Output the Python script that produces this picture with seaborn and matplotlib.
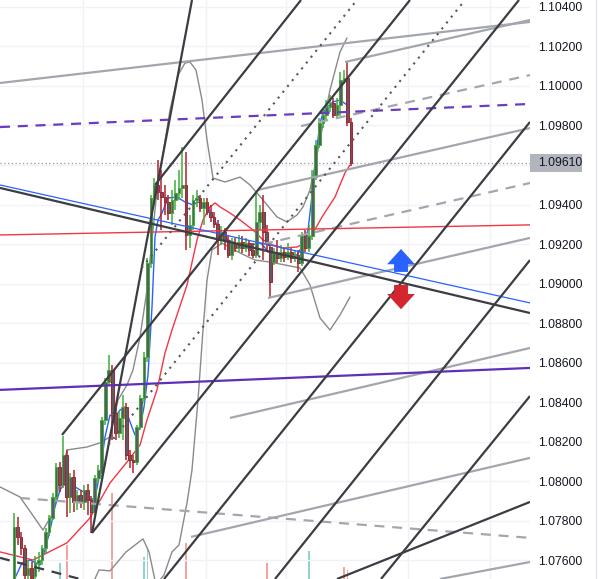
import numpy as np
import pandas as pd
import matplotlib
matplotlib.use("Agg")
import matplotlib.pyplot as plt
import matplotlib.transforms as mtransforms
from matplotlib.lines import Line2D
from matplotlib.patches import Rectangle
import seaborn as sns

# ---------------- data ----------------
open_ = [1.07475, 1.07768, 1.07718, 1.07662, 1.07526, 1.07561, 1.07520, 1.07586, 1.07601, 1.07662,
         1.07743, 1.07814, 1.07920, 1.08072, 1.07981, 1.08133, 1.07920, 1.08021, 1.07895, 1.07930,
         1.07895, 1.07956, 1.07905, 1.07844, 1.08016, 1.08042, 1.08310, 1.08502, 1.08563, 1.08345,
         1.08244, 1.08320, 1.08376, 1.08133, 1.08107, 1.08097, 1.08274, 1.08421, 1.08629, 1.09104,
         1.09433, 1.09499, 1.09463, 1.09438, 1.09413, 1.09357, 1.09423, 1.09458, 1.09484, 1.09499,
         1.09246, 1.09297, 1.09423, 1.09433, 1.09383, 1.09413, 1.09362, 1.09337, 1.09302, 1.09221,
         1.09261, 1.09221, 1.09145, 1.09205, 1.09180, 1.09210, 1.09180, 1.09205, 1.09170, 1.09145,
         1.09312, 1.09362, 1.09261, 1.09185, 1.09109, 1.09155, 1.09130, 1.09160, 1.09135, 1.09160,
         1.09130, 1.09145, 1.09104, 1.09246, 1.09180, 1.09241, 1.09539, 1.09701, 1.09813, 1.09853,
         1.09894, 1.09914, 1.09853, 1.09904, 1.10030, 1.10040, 1.09818]
high = [1.07839, 1.07819, 1.07743, 1.07677, 1.07601, 1.07591, 1.07622, 1.07642, 1.07677, 1.07763,
        1.07829, 1.07940, 1.08092, 1.08097, 1.08229, 1.08158, 1.08042, 1.08057, 1.07956, 1.07956,
        1.07981, 1.07986, 1.07925, 1.08032, 1.08082, 1.08325, 1.08522, 1.08639, 1.08588, 1.08371,
        1.08350, 1.08436, 1.08396, 1.08158, 1.08133, 1.08285, 1.08436, 1.08654, 1.09130, 1.09448,
        1.09534, 1.09625, 1.09575, 1.09499, 1.09448, 1.09474, 1.09524, 1.09575, 1.09691, 1.09666,
        1.09347, 1.09448, 1.09474, 1.09448, 1.09433, 1.09433, 1.09398, 1.09362, 1.09322, 1.09291,
        1.09281, 1.09246, 1.09231, 1.09231, 1.09246, 1.09241, 1.09231, 1.09221, 1.09205, 1.09463,
        1.09398, 1.09448, 1.09297, 1.09195, 1.09180, 1.09221, 1.09195, 1.09180, 1.09205, 1.09180,
        1.09170, 1.09170, 1.09261, 1.09271, 1.09297, 1.09575, 1.09727, 1.09838, 1.09889, 1.09929,
        1.09954, 1.09939, 1.09939, 1.10071, 1.10081, 1.10121, 1.09838]
low = [1.07440, 1.07677, 1.07627, 1.07450, 1.07460, 1.07440, 1.07500, 1.07541, 1.07576, 1.07637,
       1.07723, 1.07804, 1.07905, 1.07946, 1.07966, 1.07819, 1.07839, 1.07844, 1.07854, 1.07864,
       1.07854, 1.07829, 1.07738, 1.07829, 1.07996, 1.08021, 1.08285, 1.08487, 1.08209, 1.08209,
       1.08219, 1.08209, 1.08107, 1.08067, 1.08042, 1.08082, 1.08259, 1.08401, 1.08603, 1.09079,
       1.09398, 1.09423, 1.09271, 1.09347, 1.09322, 1.09297, 1.09372, 1.09423, 1.09433, 1.09170,
       1.09180, 1.09271, 1.09388, 1.09362, 1.09297, 1.09347, 1.09312, 1.09281, 1.09145, 1.09195,
       1.09170, 1.09130, 1.09119, 1.09160, 1.09160, 1.09155, 1.09160, 1.09140, 1.09130, 1.09130,
       1.09271, 1.09119, 1.09170, 1.08927, 1.09094, 1.09104, 1.09109, 1.09109, 1.09119, 1.09104,
       1.09109, 1.09059, 1.09089, 1.09160, 1.09160, 1.09221, 1.09524, 1.09686, 1.09787, 1.09828,
       1.09868, 1.09838, 1.09838, 1.09848, 1.10010, 1.09797, 1.09595]
close = [1.07768, 1.07718, 1.07662, 1.07526, 1.07561, 1.07510, 1.07586, 1.07601, 1.07662, 1.07743,
         1.07814, 1.07920, 1.08072, 1.07981, 1.08133, 1.07920, 1.08021, 1.07895, 1.07930, 1.07895,
         1.07956, 1.07905, 1.07844, 1.08016, 1.08057, 1.08310, 1.08502, 1.08563, 1.08345, 1.08244,
         1.08320, 1.08376, 1.08133, 1.08107, 1.08097, 1.08274, 1.08421, 1.08629, 1.09104, 1.09433,
         1.09499, 1.09463, 1.09438, 1.09413, 1.09357, 1.09423, 1.09458, 1.09484, 1.09499, 1.09246,
         1.09297, 1.09423, 1.09433, 1.09383, 1.09413, 1.09362, 1.09337, 1.09302, 1.09221, 1.09261,
         1.09221, 1.09145, 1.09205, 1.09180, 1.09210, 1.09180, 1.09205, 1.09170, 1.09145, 1.09312,
         1.09362, 1.09261, 1.09205, 1.09008, 1.09155, 1.09130, 1.09160, 1.09135, 1.09160, 1.09130,
         1.09145, 1.09104, 1.09246, 1.09180, 1.09241, 1.09539, 1.09701, 1.09813, 1.09853, 1.09894,
         1.09914, 1.09853, 1.09904, 1.10030, 1.10040, 1.09818, 1.09610]

# fast moving average (blue): bar index, price
ma_fast_x = [0.28, 2.28, 4.56, 7.41, 8.83, 10.26, 11.68, 13.11, 14.53, 15.95, 17.38, 20.23, 21.65, 23.08,
             24.50, 25.93, 27.35, 28.77, 30.20, 31.62, 33.05, 34.47, 35.90, 37.04, 38.18, 39.32, 40.17,
             41.03, 42.17, 43.87, 46.44, 48.72, 51.00, 52.42, 53.85, 55.27, 56.70, 58.12, 59.54, 60.97,
             64.39, 68.09, 69.52, 70.94, 72.36, 74.93, 77.78, 80.63, 82.34, 83.76, 85.19, 86.32, 87.18,
             88.03, 89.17, 90.88, 92.88, 94.87]
ma_fast_y = [1.07510, 1.07586, 1.07601, 1.07576, 1.07652, 1.07753, 1.07870, 1.07956, 1.07991, 1.08006,
             1.07971, 1.07941, 1.07905, 1.07915, 1.08042, 1.08224, 1.08335, 1.08325, 1.08360, 1.08376,
             1.08300, 1.08234, 1.08269, 1.08376, 1.08538, 1.08882, 1.09236, 1.09322, 1.09357, 1.09433,
             1.09438, 1.09413, 1.09398, 1.09413, 1.09398, 1.09383, 1.09337, 1.09286, 1.09246, 1.09221,
             1.09195, 1.09195, 1.09210, 1.09195, 1.09160, 1.09155, 1.09145, 1.09145, 1.09195, 1.09271,
             1.09489, 1.09691, 1.09813, 1.09863, 1.09894, 1.09919, 1.09929, 1.09904]
# slow moving average (red)
ma_slow_x = [-3.99, 5.41, 15.10, 21.65, 27.35, 32.19, 35.90, 37.89, 40.74, 43.02, 45.01, 49.29, 52.14,
             53.85, 55.84, 57.26, 58.69, 61.54, 64.39, 68.09, 70.94, 73.79, 76.64, 80.63, 83.48, 85.19,
             87.75, 91.45, 94.30, 95.73]
ma_slow_y = [1.07642, 1.07601, 1.07688, 1.07814, 1.07991, 1.08097, 1.08183, 1.08310, 1.08462, 1.08649,
             1.08765, 1.08993, 1.09221, 1.09322, 1.09388, 1.09408, 1.09388, 1.09357, 1.09322, 1.09271,
             1.09221, 1.09195, 1.09180, 1.09185, 1.09210, 1.09256, 1.09337, 1.09438, 1.09560, 1.09600]
# bollinger bands (grey)
bb_up_x = [-3.99, 1.71, 8.26, 11.11, 15.10, 20.80, 24.50, 27.35, 29.63, 32.19, 33.90, 35.90, 37.89,
           39.32, 40.74, 42.17, 44.44, 46.72, 48.72, 50.14, 51.85, 53.56, 54.99, 56.70, 60.11, 64.39,
           67.24, 70.94, 74.93, 77.78, 80.63, 82.34, 84.33, 87.18, 90.03, 92.88, 94.87]
bb_up_y = [1.07971, 1.07920, 1.07753, 1.07839, 1.08158, 1.08173, 1.08194, 1.08224, 1.08411, 1.08487,
           1.08563, 1.08730, 1.08968, 1.09221, 1.09474, 1.09625, 1.09878, 1.10055, 1.10116, 1.10121,
           1.10081, 1.09929, 1.09727, 1.09534, 1.09514, 1.09539, 1.09499, 1.09423, 1.09337, 1.09312,
           1.09347, 1.09388, 1.09474, 1.09727, 1.09980, 1.10172, 1.10243]
bb_lo_x = [21.08, 24.22, 27.35, 31.91, 36.75, 38.46, 40.46, 42.74, 45.01, 47.01, 49.29, 50.71, 52.42,
           53.85, 54.99, 56.41, 59.26, 64.39, 68.66, 72.93, 77.21, 81.48, 84.33, 87.18, 90.03, 92.88,
           95.73]
bb_lo_y = [1.07429, 1.07551, 1.07546, 1.07642, 1.07708, 1.07642, 1.07475, 1.07526, 1.07642, 1.07677,
           1.07890, 1.08057, 1.08411, 1.08765, 1.09017, 1.09170, 1.09205, 1.09155, 1.09119, 1.09109,
           1.09094, 1.09079, 1.08993, 1.08826, 1.08765, 1.08841, 1.08932]

# volume bars that show at the bottom
vol_idx = [13, 15, 28, 37, 38, 49, 72, 84, 94, 95]
vol_val = [28, 59, 149, 38, 55, 62, 28, 48, 21, 16]
vol_up = [True, False, False, True, True, False, False, True, False, False]

# drawings: (bar index start, price start, bar index end, price end)
dark_lines = [(22.22, 1.07738, 50.71, 1.10435),
              (40.17, 1.09499, 81.77, 1.10435),
              (13.68, 1.08234, 112.82, 1.10435),
              (22.22, 1.07738, 143.87, 1.10435),
              (42.74, 1.07505, 147.01, 1.09818),
              (74.36, 1.07505, 147.01, 1.09119),
              (104.56, 1.07505, 147.01, 1.08431),
              (-3.99, 1.09484, 147.01, 1.08851),
              (92.02, 1.07505, 147.01, 1.07895)]
dark_dashed = [(-3.99, 1.07612, 18.80, 1.07505)]
dotted_lines = [(36.38, 1.09079, 97.72, 1.10435),
                (26.95, 1.08185, 128.49, 1.10435)]
grey_lines = [(-3.99, 1.10015, 147.01, 1.10324),
              (94.30, 1.10121, 147.01, 1.10334),
              (69.52, 1.09474, 147.01, 1.09787),
              (72.36, 1.08927, 147.01, 1.09231),
              (61.54, 1.08320, 147.01, 1.08674),
              (50.43, 1.07718, 147.01, 1.08118),
              (121.37, 1.07505, 147.01, 1.07591)]
grey_dashed = [(81.77, 1.09797, 147.01, 1.10055),
               (70.94, 1.09200, 147.01, 1.09509),
               (1.71, 1.07915, 147.01, 1.07713)]
blue_line = (-3.99, 1.09499, 147.01, 1.08902)
red_line = (-3.99, 1.09246, 147.01, 1.09297)
purple_line = (-3.99, 1.08462, 147.01, 1.08573)
purple_dashed = (-3.99, 1.09792, 147.01, 1.09909)

last_price = 1.09610
arrow_up = (110.26, 1.09059, 1.09175)
arrow_down = (110.26, 1.08993, 1.08870)
session_breaks = [19.66, 54.70, 77.49, 112.25, 135.61]
price_ticks = [1.076, 1.078, 1.080, 1.082, 1.084, 1.086, 1.088, 1.090, 1.092, 1.094, 1.096,
               1.098, 1.100, 1.102, 1.104]

# ---------------- figure ----------------
sns.set_theme(style="white")
plt.rcParams['font.family'] = ['Liberation Sans', 'DejaVu Sans']

W, H = 598, 579
fig = plt.figure(figsize=(W / 100, H / 100), dpi=100)
fig.patch.set_facecolor("white")
rect = [0, 0, 530 / W, 1]
ax_v = fig.add_axes(rect)
ax = fig.add_axes(rect, sharex=ax_v)
ax.patch.set_visible(False)

XLIM = (-3.99, 147.01)
YLIM = (1.07505, 1.10435)

# volume
vdf = pd.DataFrame({"i": vol_idx, "v": vol_val, "up": vol_up})
for _, r in vdf.iterrows():
    ax_v.bar(r.i, r.v, width=0.5, color="#8fd3cb" if r.up else "#f5a3a1", linewidth=0)
ax_v.set_ylim(0, 1000)
ax_v.axis("off")

# grid
ax.set_xticks(session_breaks)
ax.set_yticks(price_ticks)
ax.grid(True, color="#f0f2f7", lw=1)
ax.set_axisbelow(True)

# indicators
sns.lineplot(x=bb_up_x, y=bb_up_y, ax=ax, color="#8a8a8a", lw=1, sort=False, zorder=2)
sns.lineplot(x=bb_lo_x, y=bb_lo_y, ax=ax, color="#8a8a8a", lw=1, sort=False, zorder=2)
sns.lineplot(x=ma_slow_x, y=ma_slow_y, ax=ax, color="#f23645", lw=1, sort=False, zorder=2)
sns.lineplot(x=ma_fast_x, y=ma_fast_y, ax=ax, color="#2962ff", lw=1, sort=False, zorder=2)

# candles
df = pd.DataFrame({"o": open_, "h": high, "l": low, "c": close})
df["i"] = np.arange(len(df))
up = df.c >= df.o
wick_col = np.where(up, "#3fae3a", "#b0202c")
ax.vlines(df.i, df.l, df.h, colors=wick_col, lw=1.1, zorder=3)
bottoms = np.minimum(df.o, df.c)
heights = np.maximum(np.abs(df.c - df.o), 0.00004)
ax.bar(df.i, heights, bottom=bottoms, width=0.78, color="#5a5c63",
       edgecolor=wick_col, linewidth=0.7, zorder=3.5)

# drawings
def seg(line, **kw):
    x0, y0, x1, y1 = line
    ax.plot([x0, x1], [y0, y1], solid_capstyle="butt", **kw)

for l in grey_lines:
    seg(l, color="#a3a6ad", lw=1.6, zorder=4)
for l in grey_dashed:
    seg(l, color="#a3a6ad", lw=1.6, ls=(0, (4.5, 3.5)), zorder=4)
seg(red_line, color="#f23645", lw=1.0, zorder=4)
seg(blue_line, color="#2962ff", lw=0.9, zorder=4)
seg(purple_line, color="#5e2fb8", lw=1.6, zorder=4)
seg(purple_dashed, color="#6a3cc0", lw=1.6, ls=(0, (4.5, 3.5)), zorder=4)
for l in dark_lines:
    seg(l, color="#3c3d42", lw=1.6, zorder=4.5)
for l in dark_dashed:
    seg(l, color="#3c3d42", lw=1.6, ls=(0, (4.5, 3.5)), zorder=4.5)
for l in dotted_lines:
    seg(l, color="#55565c", lw=1.5, ls=(0, (1, 2.6)), zorder=4.5)

# last price line
ax.axhline(last_price, color="#9598a1", lw=0.9, ls=(0, (1, 2)), zorder=1.5)

# arrows
ax.annotate("", xy=(arrow_up[0], arrow_up[2]), xytext=(arrow_up[0], arrow_up[1]),
            arrowprops=dict(arrowstyle="simple,head_length=0.55,head_width=1.0,tail_width=0.5",
                            color="#2962ff", lw=0, shrinkA=0, shrinkB=0, mutation_scale=20), zorder=6)
ax.annotate("", xy=(arrow_down[0], arrow_down[2]), xytext=(arrow_down[0], arrow_down[1]),
            arrowprops=dict(arrowstyle="simple,head_length=0.55,head_width=1.0,tail_width=0.5",
                            color="#d3262f", lw=0, shrinkA=0, shrinkB=0, mutation_scale=20), zorder=6)

ax.set_xlim(*XLIM)
ax.set_ylim(*YLIM)

# axis styling (the 1.09600 label is hidden behind the last-price box in the reference)
for s in ax.spines.values():
    s.set_visible(False)
ax.yaxis.tick_right()
ax.set_yticklabels(["" if abs(t - last_price) < 0.0005 else f"{t:.5f}" for t in price_ticks])
ax.tick_params(axis="y", length=0, pad=6, labelsize=8.8, labelcolor="#131722")
ax.tick_params(axis="x", length=0, labelbottom=False)
ax.set_xlabel("")
ax.set_ylabel("")

# last price label
trans = mtransforms.blended_transform_factory(ax.transAxes, ax.transData)
box_h = 18 * (YLIM[1] - YLIM[0]) / H
ax.add_patch(Rectangle((1.0, last_price - box_h / 2), 52 / 530, box_h, transform=trans,
                       facecolor="#b2b5be", edgecolor="none", clip_on=False, zorder=7))
ax.text(1.0 + 8 / 530, last_price, f"{last_price:.5f}", transform=trans, va="center", ha="left",
        fontsize=8.8, color="#131722", zorder=8, clip_on=False)

# right border
fig.add_artist(Line2D([595.5 / W, 595.5 / W], [0, 1], color="#e0e3eb", lw=1))

fig.savefig("out.png", dpi=100, facecolor="white")
